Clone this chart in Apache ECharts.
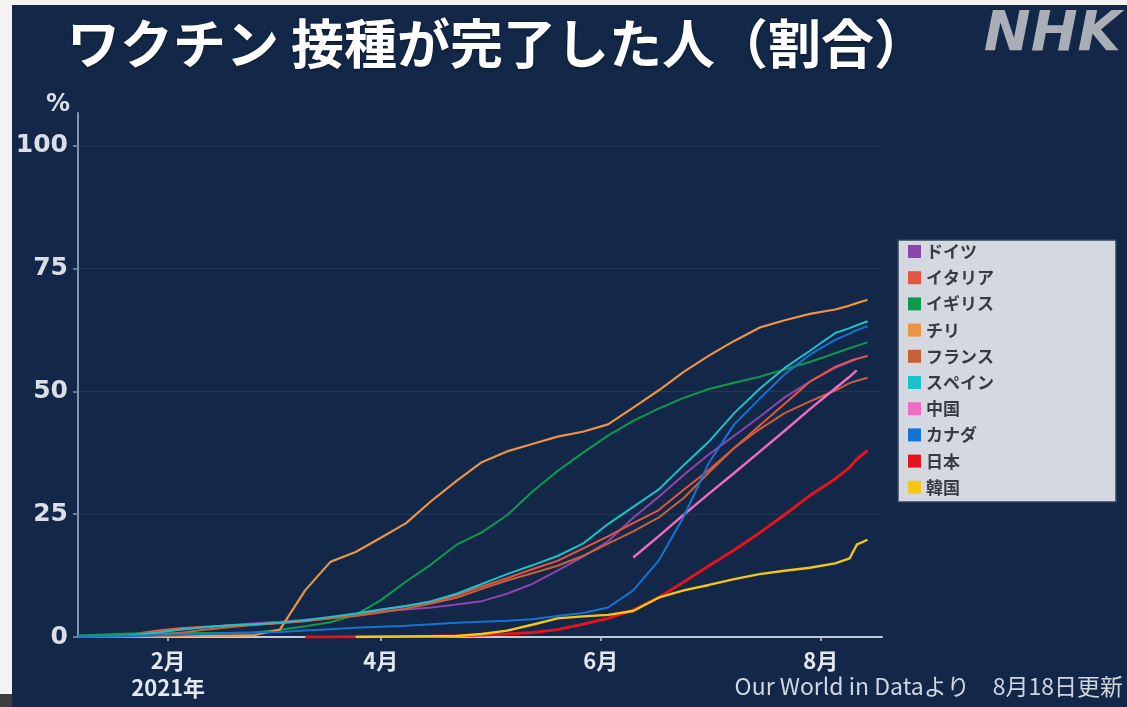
<!DOCTYPE html>
<html>
<head>
<meta charset="utf-8">
<script src="https://cdn.jsdelivr.net/npm/echarts@6/dist/echarts.min.js"></script>
<style>
  html, body { margin: 0; padding: 0; width: 1127px; height: 707px; overflow: hidden; background: #f3f3f3; position: relative; }
  #chart { position: absolute; left: 12px; top: 5px; width: 1115px; height: 702px; }
  #corner { position: absolute; left: 0; top: 694px; width: 12px; height: 13px; background: #3d3d3d; }
</style>
</head>
<body>
<div id="chart"></div>
<div id="corner"></div>
<script>
// Share of population fully vaccinated (%), sampled weekly
const dates = [
  '2021-01-07','2021-01-14','2021-01-21','2021-01-28','2021-02-04','2021-02-11','2021-02-18','2021-02-25',
  '2021-03-04','2021-03-11','2021-03-18','2021-03-25','2021-04-01','2021-04-08','2021-04-15','2021-04-22',
  '2021-04-29','2021-05-06','2021-05-13','2021-05-20','2021-05-27','2021-06-03','2021-06-10','2021-06-17',
  '2021-06-24','2021-07-01','2021-07-08','2021-07-15','2021-07-22','2021-07-29','2021-08-05','2021-08-09',
  '2021-08-11','2021-08-14'
];

const germany = [0.1,0.2,0.4,0.9,1.5,2.0,2.4,2.8,3.1,3.5,3.9,4.5,5.2,5.6,6.0,6.6,7.3,8.8,10.8,13.5,16.3,19.5,24.3,28.5,33.0,37.2,41.0,44.8,48.8,52.0,54.8,56.0,56.6,57.3];
const italy   = [0.05,0.1,0.4,1.2,1.8,2.1,2.3,2.5,2.8,3.2,3.8,4.6,5.5,6.3,7.0,8.5,10.3,12.0,13.8,15.5,18.0,20.5,23.2,25.8,30.0,34.0,38.5,43.0,47.5,52.0,55.0,56.2,56.7,57.2];
const uk      = [0.3,0.5,0.7,0.7,0.8,0.8,0.8,0.9,1.5,2.2,3.0,4.5,7.5,11.3,14.8,18.8,21.3,24.8,29.6,33.8,37.5,41.0,44.0,46.5,48.7,50.5,51.8,53.0,54.5,56.0,57.8,58.8,59.3,60.0];
const chile   = [0,0,0.05,0.1,0.2,0.3,0.3,0.4,1.5,9.5,15.3,17.3,20.2,23.2,27.7,31.8,35.6,37.8,39.3,40.8,41.8,43.3,46.7,50.2,54.0,57.3,60.3,63.0,64.5,65.8,66.7,67.5,68.0,68.7];
const france  = [0,0.05,0.1,0.3,0.8,1.5,2.0,2.5,2.9,3.3,3.8,4.3,5.0,5.8,6.8,8.0,9.8,11.5,13.0,14.5,16.5,19.0,21.5,24.3,28.3,33.5,38.5,42.3,45.6,48.0,50.2,51.7,52.2,52.8];
const spain   = [0.05,0.1,0.3,0.8,1.5,2.0,2.4,2.6,2.9,3.4,4.1,4.8,5.6,6.3,7.3,8.8,10.8,12.8,14.6,16.5,19.0,23.0,26.5,30.0,35.0,39.8,45.6,50.5,54.8,58.3,61.9,62.9,63.5,64.3];
const china   = [null,null,null,null,null,null,null,null,null,null,null,null,null,null,null,null,null,null,null,null,null,null,16.2,20.5,24.9,29.2,33.4,37.7,42.0,46.4,50.6,53.0,54.3,null];
const canada  = [0.05,0.1,0.2,0.3,0.4,0.6,0.8,0.9,1.0,1.3,1.6,1.9,2.1,2.3,2.6,2.9,3.1,3.3,3.6,4.3,4.9,6.0,9.5,15.5,24.5,35.5,43.3,48.5,53.5,57.5,60.5,61.8,62.5,63.3];
const japan   = [null,null,null,null,null,null,null,null,null,0,0.02,0.05,0.08,0.1,0.15,0.25,0.4,0.6,0.9,1.5,2.6,3.8,5.5,8.0,11.2,14.5,17.7,21.2,24.9,28.8,32.2,34.5,36.2,38.0];
const korea   = [null,null,null,null,null,null,null,null,null,null,null,0,0.05,0.1,0.15,0.2,0.6,1.3,2.5,3.8,4.2,4.5,5.3,8.0,9.5,10.6,11.8,12.8,13.5,14.1,15.0,16.0,18.8,19.8];

const countryNames = ['ドイツ','イタリア','イギリス','チリ','フランス','スペイン','中国','カナダ','日本','韓国'];
const countryValues = [germany, italy, uk, chile, france, spain, china, canada, japan, korea];

const monthTicks = ['2021-02-01','2021-04-01','2021-06-01','2021-08-01'];
const yTicks = [0, 25, 50, 75, 100];

const titleText = 'ワクチン 接種が完了した人（割合）';
const sourceText = 'Our World in Dataより　8月18日更新';

// Line colours and widths per country, in legend order
const lineColors = ['#8e44ad','#e8553f','#0e9a4c','#ec9445','#c8613a','#1cc2c9','#f06cc4','#1474d4','#e5141c','#f4c714'];
const lineWidths = [2, 2, 2, 2.2, 2, 2, 2.4, 2, 3, 2.4];

function toTime(s) {
  const p = s.split('-').map(Number);
  return new Date(p[0], p[1] - 1, p[2]).getTime();
}

const series = countryNames.map((name, i) => ({
  name: name,
  type: 'line',
  showSymbol: false,
  connectNulls: false,
  color: lineColors[i],
  lineStyle: { width: lineWidths[i], color: lineColors[i] },
  emphasis: { disabled: true },
  data: dates.map((d, k) => [toTime(d), countryValues[i][k]])
}));

const chart = echarts.init(document.getElementById('chart'), null, { renderer: 'canvas' });

const axisFont = 'DejaVu Sans, Noto Sans CJK JP, sans-serif';
const cjkFont = 'Noto Sans CJK JP, sans-serif';
const monthValues = monthTicks.map(toTime);

chart.setOption({
  backgroundColor: '#132848',
  animation: false,
  grid: { left: 66, right: 245, top: 108, bottom: 70 },
  xAxis: {
    type: 'value',
    min: toTime('2021-01-07'),
    max: toTime('2021-08-18'),
    axisLine: { show: true, lineStyle: { color: '#c3cad6', width: 2 } },
    axisTick: { show: true, length: 4, lineStyle: { color: '#c3cad6', width: 1.5 }, customValues: monthValues },
    splitLine: { show: false },
    axisLabel: {
      customValues: monthValues,
      color: '#e3e7ee',
      fontFamily: cjkFont,
      fontSize: 22,
      fontWeight: 'bold',
      lineHeight: 27,
      margin: 10,
      formatter: function (value) {
        const d = new Date(value);
        const m = (d.getMonth() + 1) + '月';
        return d.getMonth() === 1 ? m + '\n' + d.getFullYear() + '年' : m;
      }
    }
  },
  yAxis: {
    type: 'value',
    min: 0,
    max: 106.72,
    interval: 25,
    name: '%',
    nameLocation: 'end',
    nameGap: 8,
    nameTextStyle: { color: '#d9dee7', fontFamily: axisFont, fontSize: 24, fontWeight: 'bold', align: 'right', verticalAlign: 'middle', padding: [0, 8, 0, 0] },
    axisLine: { show: true, lineStyle: { color: '#8193b1', width: 2 } },
    axisTick: { show: true, length: 5, lineStyle: { color: '#8193b1', width: 1.5 }, customValues: yTicks },
    axisLabel: { customValues: yTicks, color: '#d9dee7', fontFamily: axisFont, fontSize: 25, fontWeight: 'bold', margin: 10 },
    splitLine: { show: true, lineStyle: { color: ['#22375a','#22375a','#22375a','#22375a','#22375a','rgba(0,0,0,0)'], width: 1 } }
  },
  legend: {
    orient: 'vertical',
    left: 896,
    top: 238,
    padding: 0,
    itemWidth: 13,
    itemHeight: 13,
    itemGap: 9.2,
    icon: 'rect',
    data: countryNames,
    selectedMode: false,
    textStyle: { color: '#353b47', fontFamily: cjkFont, fontSize: 17, fontWeight: 'bold', lineHeight: 17 }
  },
  graphic: [
    {
      type: 'rect', z: 0,
      shape: { x: 886, y: 235, width: 218, height: 262 },
      style: { fill: '#d4d8e0', stroke: '#33435e', lineWidth: 1.5 }
    },
    {
      type: 'text', z: 10,
      left: 55, top: 12,
      style: {
        text: titleText, fill: '#ffffff', font: 'bold 53px "Noto Sans CJK JP", sans-serif',
        textShadowColor: 'rgba(0,0,0,0.45)', textShadowBlur: 3, textShadowOffsetY: 1
      }
    },
    {
      type: 'text', z: 10,
      right: 6, top: 2,
      style: { text: 'NHK', fill: '#a9aeb7', font: 'italic bold 56px "DejaVu Sans", sans-serif' }
    },
    {
      type: 'text', z: 10,
      right: 4, top: 670,
      style: { text: sourceText, fill: '#d0d6df', font: '23px "Noto Sans CJK JP", sans-serif' }
    }
  ],
  series: series
});
</script>
</body>
</html>
